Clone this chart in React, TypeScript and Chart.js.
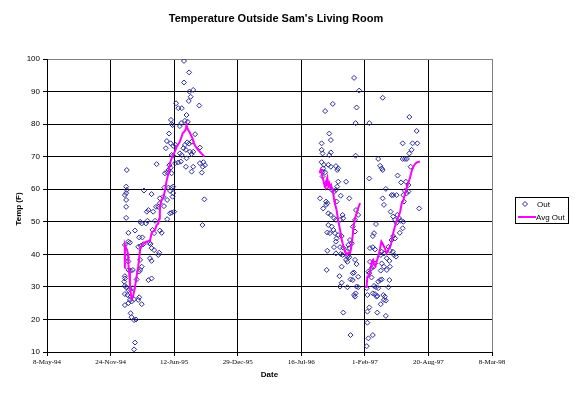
import React, { useEffect, useRef } from "react";
import { Chart, registerables } from "chart.js";

Chart.register(...registerables);

// x values are days since 8-May-94
const xTickDays = [0, 200, 400, 600, 800, 1000, 1200, 1400];
const yTicks = [10, 20, 30, 40, 50, 60, 70, 80, 90, 100];

const outDays = [
  431, 447, 431, 448, 460, 479, 452, 446, 406, 413, 424, 439, 434, 443, 390, 392, 395, 422, 418, 384,
  466, 377, 389, 441, 447, 455, 397, 405, 434, 429, 437, 374, 450, 455, 460, 481, 392, 397, 418, 424,
  421, 403, 413, 439, 437, 345, 385, 389, 382, 481, 492, 497, 490, 460, 455, 487, 251, 371, 378, 392,
  249, 251, 249, 245, 249, 305, 329, 369, 382, 392, 397, 387, 397, 395, 378, 495, 355, 366,
  249, 249, 314, 319, 334, 343, 350, 355, 368, 387, 392, 400, 378, 489, 293, 298, 311, 316, 340, 277,
  256, 290, 300, 332, 337, 355, 361, 256, 261, 245, 287, 295, 303, 322, 326, 329, 337, 353, 350, 324,
  329, 251, 256, 293, 298, 293, 290, 256, 263, 270, 319, 329, 282, 245, 245, 243, 245, 249, 256, 261,
  270, 245, 253, 263, 261, 266, 274, 290, 287, 245, 256, 298, 263, 266, 274, 280, 277, 274,
  966, 982, 899, 875, 974, 971, 1014, 888, 893, 864, 864, 867, 893, 888, 971, 864, 871, 869, 885, 893,
  909, 913, 916, 867, 875, 867, 941, 878, 880, 896, 903, 909, 916, 913, 951, 859, 878, 882, 911, 924,
  1014, 878, 869, 885, 893, 903, 909, 930, 932, 922, 972, 979, 969, 885, 896, 901, 890, 882, 906, 911,
  909, 916, 927, 962, 969, 953, 959, 948, 951, 882, 903, 909, 922, 932, 924, 930, 943, 948, 945, 951,
  941, 945, 969, 974, 927, 880, 962, 966, 920, 955, 962, 979, 927, 922, 945, 974, 979, 971, 969, 966,
  932, 955,
  1056, 1140, 1163, 1119, 1150, 1165, 1147, 1140, 1119, 1126, 1132, 1042, 1048, 1053, 1056, 1144, 1103, 1114, 1129, 1137,
  1126, 1132, 1137, 1066, 1056, 1084, 1089, 1100, 1121, 1123,
  1060, 1081, 1089, 1102, 1108, 1113, 1121, 1095, 1100, 1171, 1035, 1029, 1025, 1119, 1110, 1089, 1095, 1084, 1025, 1032,
  1016, 1053, 1060, 1050, 1074, 1079, 1088, 1092, 1098, 1069, 1077, 1016, 1032, 1027, 1021, 1053, 1060, 1069, 1050, 1079,
  1011, 1014, 1021, 1048, 1053, 1042, 1077, 1074, 1029, 1035, 1042, 1006, 1008, 1025, 1032, 1037, 1039, 1058, 1063, 1060,
  1066, 1050, 1014, 1008, 1039, 1066, 1008, 1025, 1011, 1006,
];

const outTemps = [
  99.4, 95.9, 92.8, 90, 90.5, 85.7, 88.4, 87.1, 86.4, 84.9, 84.9, 82.8, 81, 80.7, 81.3, 80, 79.7, 80.3, 79.4, 77.1,
  76.9, 74.8, 74.1, 74.4, 74, 74.6, 73.3, 73.6, 73.6, 72.6, 72.1, 72.6, 71.5, 70.8, 71.5, 72.8, 70.5, 70.3, 71, 70.5,
  68.5, 68, 68.2, 69.5, 66.9, 67.7, 67.4, 66.6, 65.9, 68, 68.3, 67.4, 66.9, 66.9, 65.4, 65.1, 65.9, 64.9, 65.2, 64.9,
  60.8, 59.8, 58.8, 58.2, 56.7, 59.6, 58.5, 60.5, 60.5, 60.5, 60.8, 59.5, 58.8, 57.7, 56.7, 56.9, 57.2, 57.7,
  54.6, 51.2, 53.1, 53.6, 53.1, 54.6, 54.6, 55.7, 54.8, 52.6, 52.8, 53.1, 50.8, 49, 50, 49.5, 49.5, 50.3, 50.3, 47.3,
  46.6, 45.2, 45.2, 47.5, 46.5, 47.3, 46.6, 43.9, 43.6, 42.9, 42.3, 42.6, 43.1, 43.4, 43.2, 41.9, 41.3, 40.5, 39.8, 38.8,
  38, 39.1, 37.8, 38.3, 36.2, 35.2, 34.7, 35.2, 35, 35.2, 32.1, 32.6, 32.3, 33.3, 32.6, 31.6, 30.3, 29.9, 29, 29.3,
  29.6, 27.8, 27.5, 27, 26, 25.5, 26.2, 26.8, 26, 24.4, 25, 24.7, 21.9, 20.7, 19.8, 20, 12.9, 10.8,
  94.2, 90.3, 86.2, 84, 85.1, 80.3, 80.3, 77.1, 75.1, 74.1, 72.1, 71, 71.3, 70.5, 70.3, 68.3, 67.5, 66.4, 67.5, 66.9,
  67.1, 65.9, 66.4, 65.4, 65.2, 63.9, 62.3, 61.8, 60.8, 59.8, 59.2, 59.8, 62.3, 60.8, 57.2, 57.2, 56.2, 55.7, 56.2, 58,
  63.3, 55.2, 54.1, 52.6, 52.1, 51.1, 50.6, 52.1, 51.1, 50.6, 53.6, 52.1, 50.6, 49, 48.5, 47.5, 46.5, 46.7, 46.5, 44.9,
  43.9, 45.9, 45.6, 48.5, 47, 44.4, 43.4, 42.9, 41.9, 41.1, 42.2, 40.3, 42.2, 42, 40.1, 39.8, 40.8, 39.8, 39.3, 39.1,
  38.3, 37.7, 38.3, 37, 36.2, 35.2, 34.2, 34.4, 33.3, 32.3, 32.1, 33.1, 31.3, 30.1, 29.9, 30.1, 29.9, 28, 27, 27.5,
  22.1, 15.2,
  88.1, 82.2, 77.9, 74.1, 74.1, 74.1, 72.1, 71, 69.3, 69.3, 69.3, 69.3, 67.2, 66.4, 65.9, 66.9, 64.2, 62.1, 62.3, 61.3,
  59.5, 58.8, 59.3, 60.1, 57.2, 58.2, 58.2, 58.2, 58.2, 56.2,
  55.2, 53.1, 51.6, 52.1, 51.1, 50.3, 50, 50.6, 49.7, 54.1, 49.3, 46.5, 45.6, 48, 46.6, 45.6, 44.9, 44.4, 42.2, 41.5,
  41.9, 40.8, 40.3, 39.8, 42.3, 41.1, 40.8, 39.8, 39.3, 38.8, 38, 37.7, 37.2, 36.2, 35.7, 37.2, 36.2, 35.2, 35, 36.2,
  34.7, 34.2, 32.9, 32.1, 32.3, 31.6, 32.1, 29.9, 30.3, 29.9, 29.6, 29.6, 27.5, 28, 27.8, 27, 27.2, 27.5, 27, 26,
  25.8, 24.7, 23.7, 22.4, 22.1, 21.1, 19, 15.2, 14.2, 11.8,
];

// moving average; null separates the gaps in the record
const avgDays = [
  244, 245, 248, 252, 255, 256, 258, 261, 264, 267, 271, 275, 280, 284, 287, 290, 293, 297, 303, 310,
  318, 324, 329, 335, 340, 345, 350, 353, 355, 356, 360, 366, 371, 376, 382, 387, 392, 397, 403, 408,
  413, 418, 423, 427, 431, 434, 437, 439, 441, 444, 447, 450, 455, 459, 462, 466, 471, 476, 481, 488, 495,
  600,
  858, 861, 864, 867, 870, 873, 876, 879, 882, 885, 888, 891, 894, 897, 900, 903, 906, 911, 916, 922,
  926, 930, 934, 938, 943, 948, 953, 956, 959, 962, 964, 969, 974, 980, 985,
  995,
  1005, 1008, 1013, 1018, 1022, 1026, 1029, 1033, 1037, 1042, 1048, 1052, 1055, 1060, 1064, 1068, 1072, 1076, 1082, 1086,
  1091, 1096, 1101, 1106, 1111, 1116, 1121, 1126, 1132, 1137, 1142, 1147, 1152, 1158, 1165, 1173,
];

const avgTemps = [
  35.8, 42.9, 42, 41.3, 40, 37, 35, 31, 27.5, 26.3, 27.2, 29, 32, 34.5, 36.2, 39, 41.5, 42.5, 43.2, 43.8,
  44, 44.2, 46.5, 47.2, 47.5, 49, 49.5, 51, 52.6, 55.2, 56.5, 57.4, 59.5, 62.5, 64.9, 68, 69.5, 70.5, 71.8, 73.1,
  73.8, 74.6, 76, 77.2, 77.6, 78, 78.6, 79.7, 79, 78.2, 77.8, 77.2, 76.2, 75.3, 74.1, 73.4, 72.6, 72, 71.5, 70.8, 70,
  null,
  64.9, 66, 65.5, 63.5, 62.5, 61.2, 60.5, 62.5, 63.5, 61, 61.8, 60.5, 61.2, 60, 59.3, 57, 55.5, 53.6, 50.5, 47.5,
  45, 43.4, 42, 41, 39.8, 40.5, 40.3, 41.5, 43.4, 46, 48.5, 51, 52.6, 54.5, 55.7,
  null,
  29.6, 33.2, 33.2, 35.3, 37.8, 38.3, 36.8, 36.3, 37.8, 39.3, 41.9, 43.9, 43.4, 42.4, 41.6, 40.4, 40.9, 41.9, 42.9, 45,
  47.3, 49.1, 50.6, 51.6, 53.1, 55.7, 56.5, 58.5, 60.5, 62, 63.5, 65.5, 66.8, 67.8, 68.3, 68.5,
];

const titleText = "Temperature Outside Sam's Living Room";
const xTitle = "Date";
const yTitle = "Temp (F)";
const seriesNames = ["Out", "Avg Out"];
const MONTHS = ["Jan", "Feb", "Mar", "Apr", "May", "Jun", "Jul", "Aug", "Sep", "Oct", "Nov", "Dec"];
const BASE = Date.UTC(1994, 4, 8);

function fmtDay(v: number): string {
  const d = new Date(BASE + v * 86400000);
  const yy = String(d.getUTCFullYear() % 100).padStart(2, "0");
  return `${d.getUTCDate()}-${MONTHS[d.getUTCMonth()]}-${yy}`;
}

const OUT_COLOR = "#2a2a9c";
const AVG_COLOR = "#FF00FF";

const overlay = {
  id: "overlay",
  afterDraw(chart: any) {
    const ctx = chart.ctx;
    const a = chart.chartArea;
    ctx.save();
    ctx.fillStyle = "#000";
    ctx.textAlign = "center";
    ctx.textBaseline = "middle";
    ctx.font = "bold 11px 'Liberation Sans', Arial, sans-serif";
    ctx.fillText(titleText, 276, 19);
    ctx.font = "bold 8px 'Liberation Sans', Arial, sans-serif";
    ctx.fillText(xTitle, (a.left + a.right) / 2, 375);
    ctx.save();
    ctx.translate(19, 209);
    ctx.rotate(-Math.PI / 2);
    ctx.fillText(yTitle, 0, 0);
    ctx.restore();
    // legend
    ctx.strokeStyle = "#000";
    ctx.lineWidth = 1;
    ctx.strokeRect(515.5, 197.5, 53, 26);
    ctx.strokeStyle = OUT_COLOR;
    ctx.beginPath();
    ctx.moveTo(525, 201.5);
    ctx.lineTo(527.5, 204);
    ctx.lineTo(525, 206.5);
    ctx.lineTo(522.5, 204);
    ctx.closePath();
    ctx.stroke();
    ctx.strokeStyle = AVG_COLOR;
    ctx.lineWidth = 2;
    ctx.beginPath();
    ctx.moveTo(518, 217);
    ctx.lineTo(536, 217);
    ctx.stroke();
    ctx.fillStyle = "#000";
    ctx.textAlign = "left";
    ctx.font = "8px 'Liberation Sans', Arial, sans-serif";
    ctx.fillText(seriesNames[0], 537, 204.5);
    ctx.fillText(seriesNames[1], 536, 217.5);
    ctx.restore();
  },
};

export default function App() {
  const ref = useRef<HTMLCanvasElement>(null);
  useEffect(() => {
    if (!ref.current) return;
    const outData = outDays.map((d, i) => ({ x: d, y: outTemps[i] }));
    const avgData = avgDays.map((d, i) => ({ x: d, y: avgTemps[i] }));
    const chart = new Chart(ref.current, {
      type: "scatter",
      data: {
        datasets: [
          {
            label: seriesNames[1],
            data: avgData as any,
            showLine: true,
            spanGaps: false,
            borderColor: AVG_COLOR,
            backgroundColor: AVG_COLOR,
            borderWidth: 2,
            pointRadius: 0,
            tension: 0,
            order: 0,
          },
          {
            label: seriesNames[0],
            data: outData,
            pointStyle: "rectRot",
            pointRadius: 2.5,
            borderWidth: 1,
            borderColor: OUT_COLOR,
            backgroundColor: "rgba(0,0,0,0)",
            order: 1,
          },
        ],
      },
      options: {
        responsive: false,
        animation: false,
        events: [],
        layout: { padding: { top: 59, right: 83, left: 0, bottom: 0 } },
        plugins: { legend: { display: false }, title: { display: false }, tooltip: { enabled: false } },
        scales: {
          x: {
            type: "linear",
            min: 0,
            max: 1400,
            afterFit: (s: any) => { s.height = 41; },
            afterBuildTicks: (s: any) => { s.ticks = xTickDays.map((v) => ({ value: v })); },
            ticks: {
              autoSkip: false,
              maxRotation: 0,
              padding: 2,
              color: "#000",
              font: { family: "'Liberation Serif', 'Times New Roman', serif", size: 7 },
              callback: (v: any) => fmtDay(Number(v)),
            },
            grid: {
              color: (c: any) => (c.tick && c.tick.value === 1400 ? "#808080" : "#000"),
              lineWidth: 1,
              tickLength: 4,
              tickColor: "#000",
            },
            border: { color: "#000", width: 1 },
          },
          y: {
            type: "linear",
            min: 10,
            max: 100,
            afterFit: (s: any) => { s.width = 47; },
            afterBuildTicks: (s: any) => { s.ticks = yTicks.map((v) => ({ value: v })); },
            ticks: {
              autoSkip: false,
              padding: 3,
              color: "#000",
              font: { family: "'Liberation Sans', Arial, sans-serif", size: 8 },
            },
            grid: {
              color: (c: any) => (c.tick && c.tick.value === 100 ? "#808080" : "#000"),
              lineWidth: 1,
              tickLength: 4,
              tickColor: "#000",
            },
            border: { color: "#000", width: 1 },
          },
        },
      },
      plugins: [overlay],
    });
    return () => chart.destroy();
  }, []);
  return (
    <div style={{ position: "absolute", left: 0, top: 0, width: 575, height: 393, background: "#fff" }}>
      <canvas ref={ref} width={575} height={393} style={{ display: "block" }} />
    </div>
  );
}
